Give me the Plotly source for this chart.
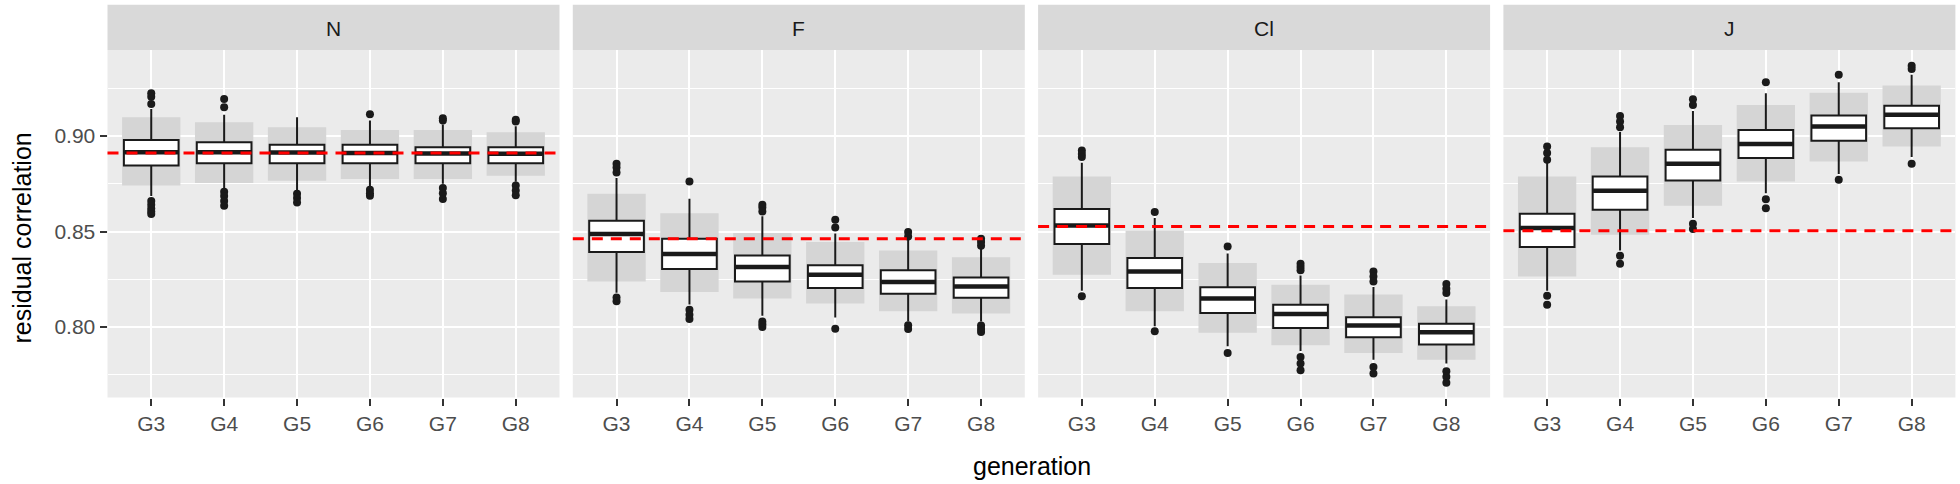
import plotly.graph_objects as go
from plotly.subplots import make_subplots

categories = ["G3", "G4", "G5", "G6", "G7", "G8"]
panels = ["N", "F", "Cl", "J"]
reference_values = [0.891, 0.8462, 0.8526, 0.8504]

band_low = [
    [0.8740, 0.8753, 0.8765, 0.8775, 0.8775, 0.8791],
    [0.8239, 0.8184, 0.8149, 0.8123, 0.8083, 0.8071],
    [0.8274, 0.8083, 0.7970, 0.7905, 0.7865, 0.7830],
    [0.8265, 0.8483, 0.8634, 0.8761, 0.8866, 0.8944],
]
band_high = [
    [0.9098, 0.9071, 0.9045, 0.9031, 0.9031, 0.9019],
    [0.8697, 0.8596, 0.8492, 0.8445, 0.8401, 0.8365],
    [0.8788, 0.8504, 0.8335, 0.8222, 0.8170, 0.8109],
    [0.8788, 0.8941, 0.9057, 0.9162, 0.9226, 0.9263],
]
lower_whisker = [
    [0.8685, 0.8720, 0.8710, 0.8730, 0.8750, 0.8760],
    [0.8180, 0.8118, 0.8060, 0.8050, 0.8030, 0.8030],
    [0.8190, 0.8005, 0.7900, 0.7875, 0.7830, 0.7810],
    [0.8190, 0.8400, 0.8570, 0.8700, 0.8800, 0.8890],
]
q1 = [
    [0.8845, 0.8857, 0.8857, 0.8857, 0.8857, 0.8857],
    [0.8393, 0.8304, 0.8239, 0.8205, 0.8175, 0.8153],
    [0.8435, 0.8205, 0.8074, 0.7996, 0.7947, 0.7909],
    [0.8419, 0.8614, 0.8767, 0.8884, 0.8974, 0.9040],
]
median = [
    [0.8915, 0.8915, 0.8913, 0.8910, 0.8908, 0.8906],
    [0.8487, 0.8382, 0.8314, 0.8274, 0.8236, 0.8213],
    [0.8532, 0.8291, 0.8149, 0.8069, 0.8008, 0.7973],
    [0.8518, 0.8713, 0.8854, 0.8958, 0.9049, 0.9110],
]
q3 = [
    [0.8979, 0.8967, 0.8953, 0.8953, 0.8941, 0.8941],
    [0.8556, 0.8462, 0.8375, 0.8323, 0.8297, 0.8260],
    [0.8617, 0.8361, 0.8208, 0.8117, 0.8051, 0.8017],
    [0.8593, 0.8788, 0.8927, 0.9031, 0.9106, 0.9157],
]
upper_whisker = [
    [0.9140, 0.9110, 0.9098, 0.9080, 0.9060, 0.9050],
    [0.8780, 0.8671, 0.8580, 0.8490, 0.8460, 0.8410],
    [0.8860, 0.8570, 0.8385, 0.8270, 0.8210, 0.8145],
    [0.8860, 0.9020, 0.9130, 0.9223, 0.9280, 0.9320],
]
outliers = [
    [
        [0.9223, 0.9205, 0.9167, 0.8660, 0.8640, 0.8620, 0.8605, 0.8591],
        [0.9193, 0.9150, 0.8708, 0.8685, 0.8660, 0.8634],
        [0.8697, 0.8675, 0.8652],
        [0.9113, 0.8718, 0.8700, 0.8687],
        [0.9092, 0.9080, 0.8727, 0.8700, 0.8670],
        [0.9084, 0.9075, 0.8740, 0.8715, 0.8690],
    ],
    [
        [0.8854, 0.8835, 0.8808, 0.8155, 0.8135],
        [0.8761, 0.8091, 0.8065, 0.8043],
        [0.8640, 0.8625, 0.8605, 0.8030, 0.8015, 0.8001],
        [0.8561, 0.8521, 0.7991],
        [0.8497, 0.8474, 0.8010, 0.7990],
        [0.8462, 0.8445, 0.8426, 0.8008, 0.7990, 0.7975],
    ],
    [
        [0.8923, 0.8905, 0.8889, 0.8161],
        [0.8602, 0.7978],
        [0.8422, 0.7865],
        [0.8332, 0.8315, 0.8297, 0.7844, 0.7810, 0.7775],
        [0.8291, 0.8265, 0.8239, 0.7792, 0.7757],
        [0.8226, 0.8200, 0.8179, 0.7769, 0.7740, 0.7709],
    ],
    [
        [0.8944, 0.8910, 0.8875, 0.8164, 0.8117],
        [0.9104, 0.9075, 0.9045, 0.8373, 0.8332],
        [0.9192, 0.9162, 0.8540, 0.8513],
        [0.9280, 0.8669, 0.8622],
        [0.9319, 0.8770],
        [0.9366, 0.9350, 0.8854],
    ],
]

W, H = 1960, 484
panel_px = [(107.5, 559.5), (572.8, 1024.8), (1038.1, 1490.1), (1503.4, 1955.4)]
plot_top, plot_bottom = 50, 397.5
strip_top = 4.7
FONT = "Liberation Sans, Arial, sans-serif"

fig = make_subplots(rows=1, cols=4, shared_yaxes=True)

for i, name in enumerate(panels):
    col = i + 1
    heights = [h - l for h, l in zip(band_high[i], band_low[i])]
    fig.add_trace(go.Bar(x=categories, y=heights, base=band_low[i], width=0.8,
                         marker=dict(color="#d5d5d5", line=dict(width=0)),
                         hoverinfo="skip"), row=1, col=col)
    fig.add_trace(go.Box(x=categories, q1=q1[i], median=median[i], q3=q3[i],
                         lowerfence=lower_whisker[i], upperfence=upper_whisker[i],
                         width=0.75, whiskerwidth=0, fillcolor="white",
                         line=dict(color="#1a1a1a", width=2), boxpoints=False,
                         hoverinfo="skip"), row=1, col=col)
    fig.add_trace(go.Scatter(x=categories, y=median[i], mode="markers",
                             marker=dict(symbol="line-ew", size=38.5,
                                         line=dict(color="#1a1a1a", width=4.5)),
                             hoverinfo="skip"), row=1, col=col)
    ox, oy = [], []
    for c, vals in zip(categories, outliers[i]):
        for v in vals:
            ox.append(c)
            oy.append(v)
    fig.add_trace(go.Scatter(x=ox, y=oy, mode="markers",
                             marker=dict(color="#1a1a1a", size=8),
                             hoverinfo="skip"), row=1, col=col)
    fig.add_hline(y=reference_values[i], row=1, col=col,
                  line=dict(color="#ff0000", width=3, dash="11px,8px"))

for i, (x0, x1) in enumerate(panel_px):
    suffix = "" if i == 0 else str(i + 1)
    fig.layout["xaxis" + suffix].update(
        domain=[x0 / W, x1 / W], type="category", categoryorder="array",
        categoryarray=categories, range=[-0.6, 5.6], automargin=False,
        showgrid=True, gridcolor="white", gridwidth=2.2, zeroline=False,
        ticks="outside", ticklen=7, tickwidth=2, tickcolor="#333333",
        tickfont=dict(family=FONT, size=21, color="#4d4d4d"),
        showline=False,
    )
    yaxis_updates = dict(
        domain=[1 - plot_bottom / H, 1 - plot_top / H], range=[0.7632, 0.9449],
        automargin=False,
        tickmode="array", tickvals=[0.80, 0.85, 0.90], ticktext=["0.80", "0.85", "0.90"],
        showgrid=True, gridcolor="white", gridwidth=2.2, zeroline=False, showline=False,
        minor=dict(tickmode="array", tickvals=[0.775, 0.825, 0.875, 0.925],
                   showgrid=True, gridcolor="white", gridwidth=1.2, ticks=""),
    )
    if i == 0:
        yaxis_updates.update(ticks="outside", ticklen=7, tickwidth=2, tickcolor="#333333",
                             tickfont=dict(family=FONT, size=21, color="#4d4d4d"))
    else:
        yaxis_updates.update(showticklabels=False, ticks="")
    fig.layout["yaxis" + suffix].update(**yaxis_updates)

    fig.add_shape(type="rect", xref="paper", yref="paper",
                  x0=x0 / W, x1=x1 / W, y0=1 - plot_top / H, y1=1 - strip_top / H,
                  fillcolor="#d9d9d9", line=dict(width=0), layer="below")
    fig.add_annotation(text=panels[i], xref="paper", yref="paper",
                       x=(x0 + x1) / 2 / W, y=1 - 29 / H, showarrow=False,
                       xanchor="center", yanchor="middle",
                       font=dict(family=FONT, size=21, color="#1a1a1a"))

fig.add_annotation(text="residual correlation", xref="paper", yref="paper",
                   x=21.5 / W, y=1 - 238 / H, textangle=-90, showarrow=False,
                   xanchor="center", yanchor="middle",
                   font=dict(family=FONT, size=25, color="black"))
fig.add_annotation(text="generation", xref="paper", yref="paper",
                   x=1032 / W, y=1 - 466 / H, showarrow=False,
                   xanchor="center", yanchor="middle",
                   font=dict(family=FONT, size=25, color="black"))

fig.update_layout(width=W, height=H,
                  margin=dict(l=0, r=0, t=0, b=0, pad=0, autoexpand=False),
                  paper_bgcolor="white", plot_bgcolor="#ebebeb", showlegend=False,
                  boxmode="overlay", barmode="overlay")

fig.write_html("out.html", config={"displayModeBar": False},
               post_script="document.body.style.margin='0';")
